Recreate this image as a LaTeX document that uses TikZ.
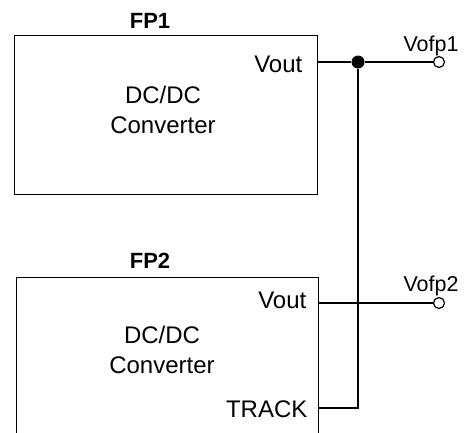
\documentclass[tikz,border=0pt]{standalone}
\usepackage{fontspec}
\setmainfont{Liberation Sans}
\begin{document}
\begin{tikzpicture}[x=1pt,y=-1pt,line width=1.3pt,
  block/.style={draw,anchor=north west,inner sep=0pt,minimum width=303pt},
  lbl/.style={font=\fontsize{24}{28}\selectfont,inner sep=0pt},
  title/.style={font=\fontsize{22}{26}\selectfont\bfseries,inner sep=0pt,anchor=base},
  pin/.style={font=\fontsize{21.5}{24}\selectfont,inner sep=0pt,anchor=base},
  term/.style={circle,draw,fill=white,minimum size=11pt,inner sep=0pt,line width=1.2pt},
  junct/.style={circle,fill,minimum size=13pt,inner sep=0pt}]
\useasboundingbox (0,0) rectangle (466,432);
\clip (0,0) rectangle (466,432);
% blocks
\node[block,minimum height=159pt] (fp1) at (14,35) {};
\node[block,minimum height=170pt,minimum width=302pt] (fp2) at (16,277) {};
% titles
\node[title] (fp1t) at (150,28) {FP1};
\node[title] (fp2t) at (150,268) {FP2};
% inner texts
\node[lbl,anchor=base] (dc1) at (163,103) {DC/DC};
\node[lbl,anchor=base] (cv1) at (163,133) {Converter};
\node[lbl,anchor=base] (dc2) at (162,343) {DC/DC};
\node[lbl,anchor=base] (cv2) at (162,373) {Converter};
\node[lbl,anchor=base east] (vo1) at (303,72) {Vout};
\node[lbl,anchor=base east] (vo2) at (307,308) {Vout};
\node[lbl,anchor=base east] (trl) at (308,417) {TRACK};
% junction, terminals
\node[junct] (j) at (358,62) {};
\node[term] (t1) at (439,62) {};
\node[term] (t2) at (439,303) {};
\coordinate (trk) at (358,408);
\node[pin] (p1) at (431,51) {Vofp1};
\node[pin] (p2) at (431,291) {Vofp2};
% connectors
\draw (fp1.east |- j) -- (j) -- (t1);
\draw (j) -- (trk) -- (fp2.east |- trk);
\draw (fp2.east |- t2) -- (t2);
\end{tikzpicture}
\end{document}
